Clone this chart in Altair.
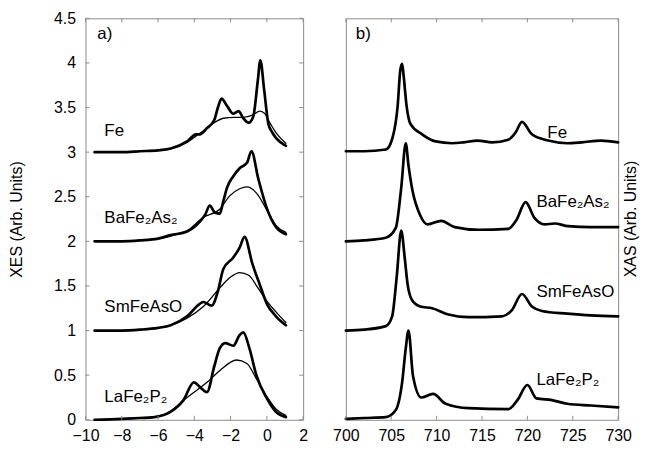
import altair as alt
import pandas as pd

# ---------------- XES (panel a) ----------------
fe_exp_x = [-9.5, -8, -7, -6, -5.3, -4.4, -3.9, -3.7, -3.3, -2.9, -2.7, -2.5, -2.2, -1.85, -1.56, -1.3, -1.0, -0.75, -0.5, -0.36, -0.15, 0.08, 0.3, 0.5, 1.05]
fe_exp_y = [3.0, 3.0, 3.01, 3.02, 3.04, 3.12, 3.2, 3.2, 3.27, 3.36, 3.5, 3.6, 3.52, 3.43, 3.46, 3.38, 3.33, 3.4, 3.8, 4.03, 3.7, 3.32, 3.22, 3.16, 3.07]
fe_calc_x = [-9.5, -8, -7, -6, -5.3, -4.4, -3.9, -3.3, -2.9, -2.4, -1.8, -1.3, -0.74, -0.4, -0.1, 0.08, 0.5, 1.05]
fe_calc_y = [3.0, 3.0, 3.01, 3.02, 3.04, 3.11, 3.18, 3.27, 3.33, 3.38, 3.39, 3.39, 3.42, 3.46, 3.43, 3.36, 3.22, 3.1]

ba_exp_x = [-9.5, -8, -7, -6, -5.3, -4.4, -3.7, -3.4, -3.15, -2.85, -2.6, -2.4, -2.2, -1.85, -1.5, -1.1, -0.85, -0.47, 0.0, 0.5, 1.05]
ba_exp_y = [2.0, 2.0, 2.01, 2.03, 2.07, 2.11, 2.22, 2.3, 2.4, 2.32, 2.31, 2.45, 2.6, 2.73, 2.82, 2.88, 3.01, 2.70, 2.37, 2.16, 2.08]
ba_calc_x = [-9.5, -8, -7, -6, -5.3, -4.4, -3.5, -2.6, -2.05, -1.5, -1.1, -0.57, 0.0, 0.5, 1.05]
ba_calc_y = [2.0, 2.0, 2.01, 2.03, 2.06, 2.12, 2.27, 2.36, 2.51, 2.59, 2.61, 2.54, 2.35, 2.18, 2.1]

sm_exp_x = [-9.5, -8, -7, -6, -5.3, -4.4, -3.7, -3.5, -3.04, -2.7, -2.4, -1.85, -1.5, -1.23, -0.8, -0.4, 0.0, 0.5, 1.05]
sm_exp_y = [1.0, 1.0, 1.01, 1.03, 1.06, 1.16, 1.3, 1.32, 1.28, 1.44, 1.69, 1.82, 1.93, 2.05, 1.75, 1.52, 1.3, 1.16, 1.06]
sm_calc_x = [-9.5, -8, -7, -6, -5.3, -4.4, -3.5, -2.5, -2.0, -1.5, -1.0, -0.5, 0.0, 0.5, 1.05]
sm_calc_y = [1.0, 1.0, 1.01, 1.03, 1.06, 1.14, 1.27, 1.5, 1.6, 1.65, 1.62, 1.48, 1.33, 1.21, 1.09]

la_exp_x = [-9.5, -8, -7, -6.2, -5.3, -4.6, -4.03, -3.6, -3.3, -2.9, -2.6, -2.3, -1.85, -1.5, -1.3, -0.96, -0.58, 0.0, 0.5, 1.05]
la_exp_y = [0.0, 0.01, 0.02, 0.03, 0.09, 0.22, 0.42, 0.35, 0.31, 0.6, 0.8, 0.86, 0.83, 0.95, 0.98, 0.8, 0.5, 0.24, 0.09, 0.03]
la_calc_x = [-9.5, -8, -7, -6, -5.3, -4.4, -3.3, -2.6, -1.67, -1.1, -0.58, 0.0, 0.5, 1.05]
la_calc_y = [0.0, 0.01, 0.02, 0.04, 0.1, 0.25, 0.42, 0.55, 0.67, 0.63, 0.46, 0.26, 0.12, 0.05]

# ---------------- XAS (panel b) ----------------
fe_xas_x = [700, 702, 704.4, 704.9, 705.7, 706.0, 706.2, 706.35, 706.7, 707.1, 708.4, 709.9, 711.7, 713, 714.5, 716.1, 717.9, 718.7, 719.4, 720.5, 722.3, 724.4, 726, 728.1, 730]
fe_xas_y = [3.01, 3.01, 3.03, 3.09, 3.51, 3.92, 3.99, 3.87, 3.51, 3.32, 3.2, 3.12, 3.10, 3.11, 3.13, 3.11, 3.14, 3.22, 3.34, 3.2, 3.13, 3.1, 3.11, 3.13, 3.11]

ba_xas_x = [700, 702, 704.4, 705.5, 706.1, 706.6, 706.9, 707.3, 708.2, 709, 710.5, 712, 714.6, 717.9, 718.8, 719.8, 720.8, 721.9, 723, 724.5, 727, 730]
ba_xas_y = [2.0, 2.01, 2.04, 2.15, 2.6, 3.1, 2.85, 2.59, 2.29, 2.19, 2.23, 2.16, 2.13, 2.14, 2.24, 2.44, 2.26, 2.19, 2.2, 2.17, 2.16, 2.16]

sm_xas_x = [700, 702, 704.4, 705.1, 705.6, 706.1, 706.5, 706.8, 707.3, 708.2, 709.5, 711.3, 713.5, 717.2, 718.3, 719.4, 720.5, 721.6, 724.4, 727, 730]
sm_xas_y = [1.0, 1.01, 1.05, 1.16, 1.6, 2.12, 1.8, 1.52, 1.34, 1.27, 1.25, 1.18, 1.15, 1.16, 1.23, 1.41, 1.27, 1.22, 1.19, 1.17, 1.16]

la_xas_x = [700, 702, 704.4, 705.5, 706.2, 706.6, 706.9, 707.4, 708.3, 709.6, 711, 713.5, 717.9, 718.9, 720, 721, 722.7, 724.4, 727, 730]
la_xas_y = [0.01, 0.02, 0.03, 0.11, 0.42, 0.8, 1.0, 0.49, 0.25, 0.29, 0.18, 0.13, 0.12, 0.22, 0.39, 0.24, 0.22, 0.18, 0.16, 0.14]

# ---------------- labels / ticks ----------------
names = ["Fe", "BaFe₂As₂", "SmFeAsO", "LaFe₂P₂"]
xes_label_x = [-8.96, -8.96, -8.96, -8.96]
xes_label_y = [3.24, 2.26, 1.26, 0.26]
xas_label_x = [722.2, 721.0, 721.0, 721.0]
xas_label_y = [3.21, 2.44, 1.43, 0.45]
panel_a_label = "a)"
panel_b_label = "b)"
xes_title = "XES (Arb. Units)"
xas_title = "XAS (Arb. Units)"

xes_xticks = [-10, -8, -6, -4, -2, 0, 2]
xas_xticks = [700, 705, 710, 715, 720, 725, 730]
yticks = [0, 0.5, 1, 1.5, 2, 2.5, 3, 3.5, 4, 4.5]

FONT = "Liberation Sans"
W1, W2, H = 219, 274, 404
TICK = 4
FRAME = "#8c8c8c"


def series_df(pairs):
    rows = []
    for name, kind, xs, ys in pairs:
        for xv, yv in zip(xs, ys):
            rows.append({"x": xv, "y": yv, "series": name + "-" + kind, "kind": kind})
    return pd.DataFrame(rows)


xes_df = series_df([
    ("Fe", "exp", fe_exp_x, fe_exp_y), ("Fe", "calc", fe_calc_x, fe_calc_y),
    ("Ba", "exp", ba_exp_x, ba_exp_y), ("Ba", "calc", ba_calc_x, ba_calc_y),
    ("Sm", "exp", sm_exp_x, sm_exp_y), ("Sm", "calc", sm_calc_x, sm_calc_y),
    ("La", "exp", la_exp_x, la_exp_y), ("La", "calc", la_calc_x, la_calc_y),
])
xas_df = series_df([
    ("Fe", "exp", fe_xas_x, fe_xas_y), ("Ba", "exp", ba_xas_x, ba_xas_y),
    ("Sm", "exp", sm_xas_x, sm_xas_y), ("La", "exp", la_xas_x, la_xas_y),
])

sw = alt.StrokeWidth("kind:N", scale=alt.Scale(domain=["exp", "calc"], range=[2.7, 1.3]), legend=None)


def panel(df, xdom, xticks, label_x, label_y, tag, tag_x, width, left_axis):
    xs = alt.Scale(domain=xdom, nice=False, zero=False)
    ys = alt.Scale(domain=[0, 4.5], nice=False, zero=False)
    if left_axis:
        yaxis = alt.Axis(values=yticks, format="~g", title=xes_title, labelPadding=10, titlePadding=29)
    else:
        yaxis = None
    xaxis = alt.Axis(values=xticks, format="d", title=None, labelPadding=8)

    lines = alt.Chart(df).mark_line(color="black", interpolate="monotone", strokeJoin="round", strokeCap="round").encode(
        x=alt.X("x:Q", scale=xs, axis=xaxis),
        y=alt.Y("y:Q", scale=ys, axis=yaxis),
        detail="series:N",
        strokeWidth=sw,
    )
    lab_df = pd.DataFrame({"x": label_x + [tag_x], "y": label_y + [4.32], "t": names + [tag]})
    labels = alt.Chart(lab_df).mark_text(align="left", baseline="middle", font=FONT, fontSize=17, color="black").encode(
        x=alt.X("x:Q", scale=xs, axis=xaxis), y=alt.Y("y:Q", scale=ys, axis=yaxis), text="t:N")

    xt = pd.DataFrame({"v": xticks})
    top_t = alt.Chart(xt).mark_rule(color=FRAME, strokeWidth=1).encode(
        x=alt.X("v:Q", scale=xs, axis=xaxis), y=alt.value(0), y2=alt.value(TICK))
    bot_t = alt.Chart(xt).mark_rule(color=FRAME, strokeWidth=1).encode(
        x=alt.X("v:Q", scale=xs, axis=xaxis), y=alt.value(H), y2=alt.value(H - TICK))
    layers = [top_t, bot_t]
    if left_axis:
        yt = pd.DataFrame({"v": yticks})
        layers.append(alt.Chart(yt).mark_rule(color=FRAME, strokeWidth=1).encode(
            y=alt.Y("v:Q", scale=ys, axis=yaxis), x=alt.value(0), x2=alt.value(TICK)))
        layers.append(alt.Chart(yt).mark_rule(color=FRAME, strokeWidth=1).encode(
            y=alt.Y("v:Q", scale=ys, axis=yaxis), x=alt.value(width), x2=alt.value(width - TICK)))
    else:
        tdf = pd.DataFrame({"t": [xas_title]})
        layers.append(alt.Chart(tdf).mark_text(angle=270, align="center", baseline="middle", font=FONT,
                                               fontSize=16, color="black").encode(
            x=alt.value(width + 13), y=alt.value(H / 2), text="t:N"))
    return alt.layer(lines, labels, *layers).properties(width=width, height=H)


left = panel(xes_df, [-10, 2], xes_xticks, xes_label_x, xes_label_y, panel_a_label, -9.35, W1, True)
right = panel(xas_df, [700, 730], xas_xticks, xas_label_x, xas_label_y, panel_b_label, 701.1, W2, False)

chart = alt.hconcat(left, right, spacing=43, bounds="flush").properties(
    padding={"left": 0, "top": 0, "right": 0, "bottom": 0}
).configure_view(stroke=FRAME, strokeWidth=1).configure_scale(continuousPadding=0).configure_axis(
    ticks=False, tickSize=0, domain=False, grid=False, labelFontSize=16, titleFontSize=16, labelFont=FONT,
    titleFont=FONT, titleFontWeight="normal", labelColor="black", titleColor="black", labelOverlap=False,
    labelFlush=False
)

chart.save("out.html", embed_options={"renderer": "svg", "actions": False})
